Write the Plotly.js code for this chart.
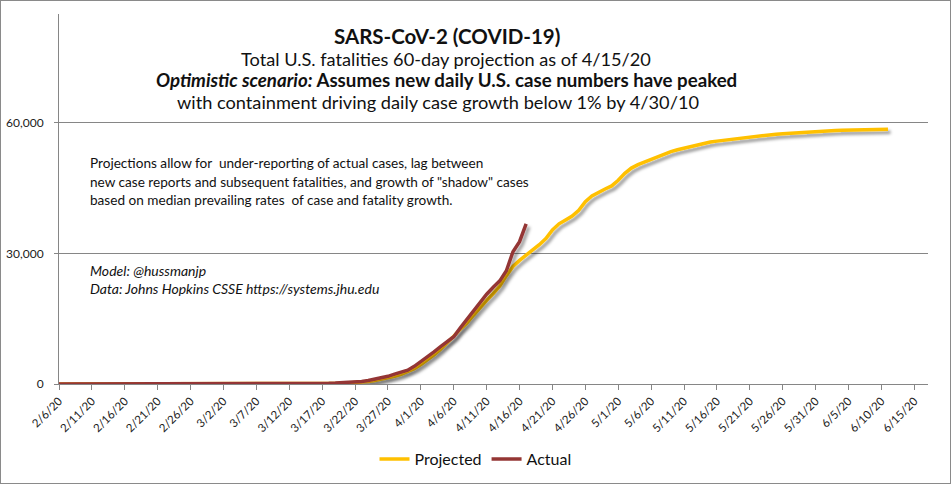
<!DOCTYPE html>
<html>
<head>
<meta charset="utf-8">
<script src="https://cdn.plot.ly/plotly-3.0.1.min.js"></script>
<style>
  html, body { margin: 0; padding: 0; background: #fff; }
  #wrap { position: relative; width: 951px; height: 484px; }
  #chart { width: 951px; height: 484px; }
  #frame { position: absolute; left: 0; top: 0; width: 949px; height: 482px; border: 1px solid #8a8a8a; pointer-events: none; }
  .scatterlayer .trace path.js-line { filter: url(#lineShadow); }
</style>
</head>
<body>
<svg width="0" height="0" style="position:absolute">
  <defs>
    <filter id="lineShadow" filterUnits="userSpaceOnUse" x="-200" y="-200" width="2000" height="1200">
      <feDropShadow dx="2.5" dy="3" stdDeviation="1.6" flood-color="#000" flood-opacity="0.4"/>
    </filter>
  </defs>
</svg>
<div id="wrap"><div id="chart"></div><div id="frame"></div></div>
<script>
// ---- data (daily, starting 2/6/20) ----
const startDate = '2020-02-06';
const tickStart = '2020-02-06';
const seriesNames = ['Projected', 'Actual'];

const projected = [
  0,0,0,0,0,0,0,0,0,0,0,0,0,0,0,0,0,0,0,0,0,0,0,
  1,2,4,6,9,12,15,19,23,28,34,41,49,58,68,80,95,110,
  130,160,200,250,310,420,580,780,1050,1380,
  1750,2200,2750,3500,4450,5500,6700,8000,9400,11000,
  12600,14000,15800,17600,19200,20800,22500,24900,27000,28400,
  29700,30800,32000,33400,35400,36800,37700,38600,39900,41900,
  43200,44100,44800,45500,46800,48400,49600,50400,51000,51600,
  52200,52900,53400,53800,54200,54500,55000,55400,55600,55800,
  56000,56200,56400,56600,56800,57000,57200,57300,57400,57500,
  57600,57800,57900,58000,58100,58150,58200,58250,58300,58350,
  58400,58500,58550,58550,58550,58550
];

const actual = [
  0,0,0,0,0,0,0,0,0,0,0,0,0,0,0,0,0,0,0,0,0,0,0,
  1,1,6,9,11,12,15,19,22,26,30,38,41,48,58,73,97,112,
  155,206,261,339,442,582,787,1059,1367,1771,
  2278,2690,3159,4054,5104,6161,7374,8566,9613,10852,
  12883,14840,16773,18853,20633,22212,23700,26000,30400,32700,
  36800
];

const titleLines = [
  'SARS-CoV-2 (COVID-19)',
  'Total U.S. fatalities 60-day projection as of 4/15/20',
  '<i>Optimistic scenario:</i> Assumes new daily U.S. case numbers have peaked',
  'with containment driving daily case growth below 1% by 4/30/10'
];
const noteLines = [
  'Projections allow for  under-reporting of actual cases, lag between',
  'new case reports and subsequent fatalities, and growth of "shadow" cases',
  'based on median prevailing rates  of case and fatality growth.'
];
const creditLines = [
  'Model: @hussmanjp',
  'Data: Johns Hopkins CSSE https://systems.jhu.edu'
];

// ---- helpers ----
function dayStr(i) {
  const p = startDate.split('-').map(Number);
  return new Date(Date.UTC(p[0], p[1] - 1, p[2] + i)).toISOString().slice(0, 10);
}
const xProj = projected.map((_, i) => dayStr(i));
const xAct = actual.map((_, i) => dayStr(i));

const L = 59, R = 928, T = 14, B = 384;
const px = x => (x - L) / (R - L);
const py = y => (B - y) / (B - T);
const FONT = 'Lato, "Open Sans", sans-serif';
const GRAY = '#868686';

function ann(text, x, y, size, opts) {
  return Object.assign({
    text: text, xref: 'paper', yref: 'paper', x: px(x), y: py(y),
    xanchor: 'center', yanchor: 'middle', showarrow: false,
    font: { family: FONT, size: size, color: '#111' }
  }, opts || {});
}

const annotations = [
  ann('<b>' + titleLines[0] + '</b>', 447, 36, 20.5),
  ann(titleLines[1], 446, 59, 18.2),
  ann('<b>' + titleLines[2] + '</b>', 446, 80, 18.7),
  ann(titleLines[3], 438, 102, 18.2),
  ann(noteLines[0], 88, 163, 13.6, { xanchor: 'left' }),
  ann(noteLines[1], 88, 182, 13.6, { xanchor: 'left' }),
  ann(noteLines[2], 88, 200, 13.6, { xanchor: 'left' }),
  ann('<i>' + creditLines[0] + '</i>', 88, 270, 14, { xanchor: 'left' }),
  ann('<i>' + creditLines[1] + '</i>', 88, 288, 14, { xanchor: 'left' })
];

const traces = [
  { x: xProj, y: projected, name: seriesNames[0], type: 'scatter', mode: 'lines',
    line: { color: '#FFC000', width: 3.5, shape: 'linear' } },
  { x: xAct, y: actual, name: seriesNames[1], type: 'scatter', mode: 'lines',
    line: { color: '#943634', width: 3.5, shape: 'linear' } }
];

const layout = {
  width: 951, height: 484,
  margin: { l: L, r: 951 - R, t: T, b: 484 - B, pad: 0 },
  paper_bgcolor: '#fff', plot_bgcolor: '#fff',
  font: { family: FONT, color: '#111' },
  showlegend: true,
  legend: {
    orientation: 'h', xref: 'container', yref: 'container',
    x: 0.5, xanchor: 'center', y: 25 / 484, yanchor: 'middle',
    font: { family: FONT, size: 16, color: '#111' },
    itemwidth: 30, traceorder: 'normal', bgcolor: 'rgba(0,0,0,0)'
  },
  xaxis: {
    type: 'date',
    range: ['2020-02-06', '2020-06-17 02:00'],
    tick0: tickStart, dtick: 5 * 86400000,
    tickformat: '%-m/%-d/%y',
    tickangle: -45,
    ticks: 'outside', ticklen: 5, tickcolor: GRAY, tickwidth: 1,
    showline: true, linecolor: GRAY, linewidth: 1,
    showgrid: false, zeroline: false,
    tickfont: { family: FONT, size: 11.5, color: '#222' }
  },
  yaxis: {
    range: [0, 85000],
    tick0: 0, dtick: 30000,
    tickformat: ',d',
    ticks: 'outside', ticklen: 4, tickcolor: GRAY, tickwidth: 1,
    ticklabelstandoff: 8,
    showline: true, linecolor: GRAY, linewidth: 1,
    showgrid: true, gridcolor: GRAY, gridwidth: 1,
    zeroline: false,
    tickfont: { family: FONT, size: 12, color: '#222' }
  },
  annotations: annotations
};

Plotly.newPlot('chart', traces, layout, { staticPlot: true, displayModeBar: false });
</script>
</body>
</html>
